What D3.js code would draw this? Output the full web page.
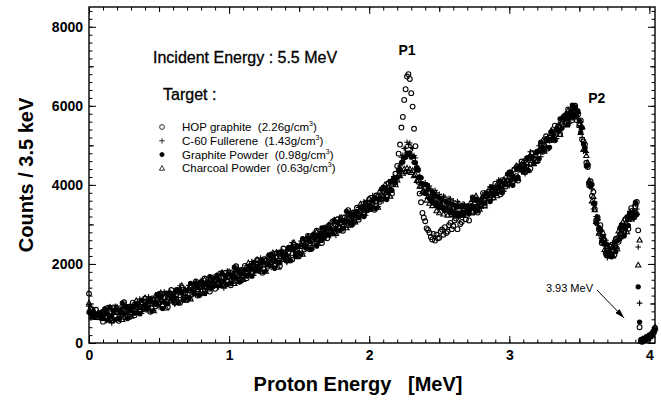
<!DOCTYPE html>
<html>
<head>
<meta charset="utf-8">
<title>Proton spectra, 5.5 MeV incident</title>
<script src="https://d3js.org/d3.v7.min.js"></script>
<style>
    body { margin: 0; background: #fff; }
    svg { font-family: "Liberation Sans", Arial, Helvetica, sans-serif; }
    .axis text { font-size: 14px; font-weight: bold; fill: #000; }
    .axis line { stroke: #000; stroke-width: 1; }
    .axis-title { font-size: 20px; font-weight: bold; }
    .note { font-size: 16px; stroke: #000; stroke-width: 0.3; }
    .legend { font-size: 11.5px; white-space: pre; }
    .peak { font-size: 14px; font-weight: bold; }
</style>
</head>
<body>
<svg width="661" height="402"></svg>
<script>
// proton energy grid [MeV]
var energy = [
    0,0.0125,0.025,0.0375,0.05,0.0625,0.075,0.0875, 0.1,0.1125,0.125,0.1375,0.15,0.1625,0.175,0.1875,
    0.2,0.2125,0.225,0.2375,0.25,0.2625,0.275,0.2875, 0.3,0.3125,0.325,0.3375,0.35,0.3625,0.375,0.3875,
    0.4,0.4125,0.425,0.4375,0.45,0.4625,0.475,0.4875, 0.5,0.5125,0.525,0.5375,0.55,0.5625,0.575,0.5875,
    0.6,0.6125,0.625,0.6375,0.65,0.6625,0.675,0.6875, 0.7,0.7125,0.725,0.7375,0.75,0.7625,0.775,0.7875,
    0.8,0.8125,0.825,0.8375,0.85,0.8625,0.875,0.8875, 0.9,0.9125,0.925,0.9375,0.95,0.9625,0.975,0.9875,
    1,1.0125,1.025,1.0375,1.05,1.0625,1.075,1.0875, 1.1,1.1125,1.125,1.1375,1.15,1.1625,1.175,1.1875,
    1.2,1.2125,1.225,1.2375,1.25,1.2625,1.275,1.2875, 1.3,1.3125,1.325,1.3375,1.35,1.3625,1.375,1.3875,
    1.4,1.4125,1.425,1.4375,1.45,1.4625,1.475,1.4875, 1.5,1.5125,1.525,1.5375,1.55,1.5625,1.575,1.5875,
    1.6,1.6125,1.625,1.6375,1.65,1.6625,1.675,1.6875, 1.7,1.7125,1.725,1.7375,1.75,1.7625,1.775,1.7875,
    1.8,1.8125,1.825,1.8375,1.85,1.8625,1.875,1.8875, 1.9,1.9125,1.925,1.9375,1.95,1.9625,1.975,1.9875,
    2,2.0125,2.025,2.0375,2.05,2.0625,2.075,2.0875, 2.1,2.1125,2.125,2.1375,2.15,2.1625,2.175,2.1875,
    2.2,2.21,2.22,2.23,2.24,2.25,2.26,2.27,2.28,2.29, 2.3,2.31,2.32,2.33,2.34,2.35,2.36,2.37,2.38,2.39,
    2.4,2.41,2.42,2.43,2.44,2.45,2.46,2.47,2.48,2.49, 2.5,2.51,2.52,2.53,2.54,2.55,2.56,2.57,2.58,2.59,
    2.6,2.61,2.62,2.63,2.64,2.65,2.66,2.67,2.68,2.69,
    2.7,2.7125,2.725,2.7375,2.75,2.7625,2.775,2.7875, 2.8,2.8125,2.825,2.8375,2.85,2.8625,2.875,2.8875,
    2.9,2.9125,2.925,2.9375,2.95,2.9625,2.975,2.9875, 3,3.0125,3.025,3.0375,3.05,3.0625,3.075,3.0875,
    3.1,3.1125,3.125,3.1375,3.15,3.1625,3.175,3.1875, 3.2,3.2125,3.225,3.2375,3.25,3.2625,3.275,3.2875,
    3.3,3.3125,3.325,3.3375,3.35,3.3625,3.375,3.3875,
    3.4,3.41,3.42,3.43,3.44,3.45,3.46,3.47, 3.48,3.49,3.5,3.51,3.52,3.53,3.54,3.55,
    3.56,3.57,3.58,3.59,3.6,3.61,3.62,3.63, 3.64,3.65,3.66,3.67,3.68,3.69,3.7,3.71,
    3.72,3.73,3.74,3.75,3.76,3.77,3.78,3.79, 3.8,3.81,3.82,3.83,3.84,3.85,3.86,3.87,
    3.88,3.89,3.9,3.91,
    3.92,3.93,
    3.94,3.95,3.96,3.97,3.98,3.99,4,4.01,4.02,4.03,4.04
];

// counts / 3.5 keV
var hopGraphite = [
    1250,750,850,660,840,650,760,670, 540,770,670,890,600,760,900,670,
    790,560,880,720,1030,790,680,920, 770,1020,700,910,1000,790,980,900,
    1130,910,980,790,1130,1080,930,1060, 1040,1180,950,1250,1050,910,1230,1340,
    1240,1020,1240,1330,1020,1400,1210,1160, 1090,1330,1450,1240,1360,1560,1200,1440,
    1520,1330,1630,1410,1520,1300,1510,1660, 1370,1620,1520,1760,1470,1640,1780,1560,
    1690,1460,1790,1630,1940,1710,1600,1850, 1700,1950,1640,1860,1950,1740,1940,1870,
    2100,1880,1960,1780,2120,2080,1930,2060, 2040,2190,1970,2270,2080,1950,2270,2390,
    2290,2080,2310,2400,2110,2490,2310,2260, 2210,2450,2580,2370,2510,2710,2370,2610,
    2710,2520,2840,2620,2750,2530,2760,2920, 2650,2900,2820,3070,2800,2970,3130,2920,
    3060,2840,3180,3040,3360,3130,3040,3300, 3160,3420,3120,3350,3450,3250,3460,3400,
    3640,3440,3540,3370,3730,3700,3570,3730, 3730,3910,3710,4040,3880,3780,4130,4280,
    4480,4790,5020,5450,5720,6150,6420,6740,6800,6680, 6320,5980,5420,4980,4420,4080,3780,3560,3290,3170,
    3080,2900,2860,2790,2680,2620,2760,2590,2740,2650, 2660,2820,2870,2740,2930,2780,2820,2980,3040,2880,
    2960,3100,3150,2880,3210,3010,3060,3250,3300,3130,
    3320,3100,3440,3300,3620,3390,3300,3560, 3520,3790,3490,3720,3820,3630,3850,3790,
    4030,3830,3930,3760,4120,4090,3960,4110, 4110,4270,4070,4390,4220,4110,4450,4590,
    4510,4320,4570,4680,4410,4810,4660,4630, 4600,4860,5020,4840,5000,5230,4920,5190,
    5310,5160,5500,5320,5470,5290,5540,5720,
    5740,5580,5910,5710,5850,5640,5860,6000, 5640,5780,5550,5630,5150,5100,5020,4560,
    4450,3990,4090,3720,3820,3390,3100,3180, 2870,2980,2530,2620,2590,2280,2390,2250,
    2440,2230,2350,2230,2630,2650,2560,2750, 2780,2970,2790,3130,2980,2890,3250,3410,
    3350,3180,3450,3570,
    2850,400,
    60,30,110,90,150,120,200,170,250,300,380
];

var c60Fullerene = [
    930,640,820,770,650,760,640,790, 670,800,570,850,650,510,820,930,
    820,600,820,900,600,970,780,720, 660,890,1010,790,920,1110,750,980,
    1070,870,1170,940,1060,830,1050,1190, 910,1150,1050,1290,1000,1160,1310,1080,
    1210,980,1300,1150,1450,1220,1110,1360, 1200,1460,1140,1360,1440,1240,1430,1360,
    1580,1370,1440,1260,1590,1550,1390,1530, 1500,1650,1420,1720,1520,1390,1700,1820,
    1720,1500,1730,1810,1510,1890,1700,1650, 1590,1820,1950,1740,1870,2060,1710,1950,
    2040,1840,2150,1930,2050,1830,2050,2190, 1910,2160,2070,2310,2030,2200,2350,2130,
    2260,2040,2370,2220,2540,2310,2210,2460, 2320,2580,2270,2490,2590,2390,2600,2530,
    2770,2560,2650,2470,2820,2780,2640,2790, 2780,2930,2720,3030,2850,2720,3050,3180,
    3090,2880,3120,3220,2930,3310,3140,3100, 3050,3290,3430,3230,3370,3570,3230,3480,
    3580,3400,3730,3520,3660,3450,3690,3860, 3600,3880,3810,4080,3830,4030,4210,4020,
    4230,4420,4480,4700,4750,4920,4930,5080,5020,5060, 4950,4920,4740,4680,4470,4420,4220,4180,4030,4010,
    4050,3850,3760,3970,3900,3680,3600,3860,3800,3570, 3760,3530,3480,3720,3690,3450,3420,3660,3640,3390,
    3600,3330,3310,3580,3540,3290,3300,3520,3500,3310,
    3450,3250,3480,3580,3290,3670,3500,3460, 3410,3660,3800,3600,3740,3950,3620,3870,
    3970,3790,4120,3910,4050,3840,4080,4240, 3980,4240,4170,4430,4170,4360,4530,4330,
    4480,4280,4630,4500,4840,4630,4560,4830, 4710,4990,4710,4960,5080,4910,5150,5110,
    5370,5200,5310,5170,5540,5540,5420,5590,
    5800,5620,5720,5560,5920,5890,5740,5870, 5770,5810,5450,5590,5200,4850,4940,4820,
    4480,4030,4030,3900,3390,3570,3200,2980, 2760,2850,2840,2500,2510,2600,2160,2330,
    2380,2190,2540,2380,2560,2400,2680,2880, 2650,2940,2890,3170,2930,3140,3330,3150,
    3320,3140,3510,3390,
    2430,1010,
    30,80,50,140,100,180,140,230,200,290,340
];

var graphitePowder = [
    780,740,700,760,700,720,690,760, 620,860,740,590,900,690,810,590,
    840,620,750,1010,740,920,620,870, 820,920,750,980,930,740,1080,850,
    970,860,1040,1110,810,1020,980,1220, 1250,1160,870,1040,1260,990,1250,1130,
    1060,1140,1350,1010,1340,1290,1090,1340, 1330,1130,1510,1350,1250,1500,1400,1200,
    1550,1440,1250,1510,1420,1680,1400,1630, 1450,1710,1590,1460,1770,1570,1690,1480,
    1740,1520,1660,1920,1650,1840,1540,1800, 1750,1850,1690,1930,1880,1690,2040,1820,
    1940,1830,2020,2100,1800,2020,1980,2220, 2250,2170,1890,2060,2290,2030,2290,2180,
    2110,2200,2420,2080,2430,2380,2190,2440, 2450,2250,2640,2480,2400,2650,2570,2370,
    2740,2630,2460,2720,2650,2910,2650,2890, 2730,2990,2890,2770,3100,2900,3040,2840,
    3110,2900,3050,3330,3070,3260,2980,3250, 3210,3320,3170,3420,3380,3200,3560,3350,
    3480,3390,3600,3690,3410,3640,3620,3890, 3940,3890,3630,3830,4090,3860,4150,4070,
    4180,4360,4390,4560,4580,4700,4700,4800,4770,4810, 4700,4720,4570,4560,4390,4370,4200,4180,4030,4010,
    3780,4000,3890,3660,3590,3820,3750,3520,3480,3700, 3430,3650,3610,3390,3350,3580,3550,3320,3300,3520,
    3280,3490,3470,3260,3250,3450,3440,3260,3270,3440,
    3470,3270,3410,3690,3430,3620,3340,3610, 3570,3690,3540,3790,3750,3580,3950,3740,
    3870,3780,3990,4080,3800,4030,4010,4270, 4320,4250,3990,4180,4430,4190,4470,4380,
    4330,4440,4680,4360,4730,4700,4540,4810, 4840,4660,5080,4950,4890,5170,5120,4950,
    5340,5270,5120,5420,5370,5670,5430,5690,
    5770,5690,5530,5810,5750,6020,5750,5970, 5720,5870,5620,5330,5450,5030,4930,4480,
    4500,4050,3960,4010,3530,3520,3040,3130, 2920,2880,2580,2690,2520,2230,2490,2200,
    2280,2180,2410,2550,2310,2590,2610,2910, 2990,2950,2710,2920,3190,2970,3270,3200,
    3170,3300,3560,3250,
    1420,530,
    90,50,70,120,80,160,190,150,240,260,320
];

var charcoalPowder = [
    1010,900,660,780,640,740,720,690, 620,850,650,580,900,560,770,850,
    900,680,800,590,910,770,650,900, 670,910,860,1070,770,840,1020,910,
    1140,930,830,1070,980,810,1200,990, 1020,1270,970,1160,880,1140,1280,1060,
    1190,1070,1320,1060,1280,1450,1160,1080, 1160,1390,1110,1370,1280,1540,1350,1240,
    1480,1260,1600,1420,1360,1600,1430,1540, 1450,1700,1500,1450,1780,1440,1650,1740,
    1800,1580,1710,1500,1820,1690,1570,1830, 1600,1840,1800,2020,1720,1790,1980,1880,
    2110,1900,1810,2060,1970,1810,2200,1990, 2020,2280,1990,2180,1910,2180,2320,2110,
    2240,2130,2390,2130,2370,2540,2260,2180, 2280,2510,2240,2500,2430,2690,2520,2410,
    2670,2450,2810,2630,2590,2830,2680,2800, 2730,2980,2800,2760,3110,2770,3000,3100,
    3170,2960,3100,2910,3240,3110,3010,3280, 3060,3310,3280,3510,3220,3300,3500,3410,
    3650,3460,3390,3650,3580,3430,3840,3660, 3710,4000,3730,3950,3710,4010,4180,4000,
    4120,4250,4230,4340,4290,4400,4330,4420,4350,4400, 4310,4360,4230,4260,4110,4120,3960,3970,3820,3840,
    3800,3610,3700,3530,3680,3470,3560,3600,3340,3520, 3290,3500,3430,3260,3470,3380,3230,3440,3400,3250,
    3410,3230,3370,3440,3220,3280,3450,3230,3390,3320,
    3400,3300,3560,3310,3550,3720,3450,3380, 3480,3720,3460,3730,3660,3930,3770,3670,
    3930,3720,4090,3920,3890,4140,4000,4120, 4060,4320,4150,4120,4480,4160,4400,4510,
    4590,4400,4550,4370,4720,4610,4530,4810, 4610,4880,4870,5120,4850,4960,5190,5120,
    5380,5220,5160,5450,5390,5270,5690,5520,
    5700,5510,5880,5720,5690,5940,5780,5880, 5720,5860,5530,5320,5460,4900,4890,4740,
    4560,4110,4010,3590,3700,3370,3070,3160, 2770,2870,2690,2780,2360,2330,2430,2260,
    2450,2250,2200,2510,2480,2380,2830,2680, 2760,3060,2810,3040,2810,3120,3300,3130,
    3300,3230,3530,3300,
    1970,2600,
    40,100,60,80,130,110,170,210,190,280,400
];

var targetNames = ["HOP graphite", "C-60 Fullerene", "Graphite Powder", "Charcoal Powder"];
var targetDensity = ["2.26", "1.43", "0.98", "0.63"];
var xTicks = [0, 1, 2, 3, 4];
var yTicks = [0, 2000, 4000, 6000, 8000];
var peakLabels = [{text: "P1", e: 2.27, v: 7290}, {text: "P2", e: 3.625, v: 6070}];
var edgeArrow = {text: "3.93 MeV", e0: 3.626, v0: 1340, e1: 3.82, v1: 630};

var svg = d3.select("svg"),
    margin = {top: 7, right: 6, bottom: 59, left: 89},
    width = +svg.attr("width") - margin.left - margin.right,
    height = +svg.attr("height") - margin.top - margin.bottom;

var x = d3.scaleLinear().domain([0, 4.04]).range([0, width]);
var y = d3.scaleLinear().domain([0, 8500]).range([height, 0]);

var g = svg.append("g")
    .attr("transform", "translate(" + margin.left + "," + margin.top + ")");

var markers = {
    circle: {d: "M2.4,0A2.4,2.4 0 1,1 -2.4,0A2.4,2.4 0 1,1 2.4,0Z", fill: "none"},
    plus: {d: "M-2.8,0H2.8M0,-2.8V2.8", fill: "none"},
    dot: {d: "M2.1,0A2.1,2.1 0 1,1 -2.1,0A2.1,2.1 0 1,1 2.1,0Z", fill: "#000"},
    triangle: {d: "M0,-2.8L2.6,1.8H-2.6Z", fill: "none"}
};

var series = [
    {values: hopGraphite, marker: "circle"},
    {values: c60Fullerene, marker: "plus"},
    {values: graphitePowder, marker: "dot"},
    {values: charcoalPowder, marker: "triangle"}
];
series.forEach(function(s) {
    if (s.values.length !== energy.length) console.log("length mismatch", s.marker, s.values.length, energy.length);
});

// data points, lightest density drawn first
series.slice().reverse().forEach(function(s) {
    var m = markers[s.marker];
    g.append("g").selectAll("path")
        .data(energy.map(function(e, i) { return {e: e, v: s.values[i]}; }))
        .enter().append("path")
        .attr("transform", function(d) { return "translate(" + x(d.e) + "," + y(d.v) + ")"; })
        .attr("d", m.d)
        .attr("fill", m.fill)
        .attr("stroke", "#000")
        .attr("stroke-width", 1.1);
});

// axes: ticks inside on all four sides
function tickAxis(axis, transform, values, size, labels) {
    var a = axis.tickValues(values).tickSize(-size).tickSizeOuter(0);
    if (!labels) a.tickFormat("");
    var ax = g.append("g").attr("class", "axis").attr("transform", transform)
        .call(a).attr("font-family", null).attr("font-size", null);
    ax.select(".domain").remove();
    return ax;
}
var xMinor = d3.range(0, 4.04, 0.1), xMid = [0.5, 1.5, 2.5, 3.5];
var yMinor = d3.range(0, 8500, 200), yMid = [1000, 3000, 5000, 7000];
var bottom = "translate(0," + height + ")", right = "translate(" + width + ",0)";

tickAxis(d3.axisBottom(x), bottom, xMinor, 3.5);
tickAxis(d3.axisBottom(x), bottom, xMid, 5);
tickAxis(d3.axisBottom(x).tickPadding(7).tickFormat(d3.format("d")), bottom, xTicks, 7, true);
tickAxis(d3.axisTop(x), null, xMinor, 3.5);
tickAxis(d3.axisTop(x), null, xMid, 5);
tickAxis(d3.axisTop(x), null, xTicks, 7);

tickAxis(d3.axisLeft(y), null, yMinor, 3.5);
tickAxis(d3.axisLeft(y), null, yMid, 5);
tickAxis(d3.axisLeft(y).tickPadding(6).tickFormat(d3.format("d")), null, yTicks, 7, true);
tickAxis(d3.axisRight(y), right, yMinor, 3.5);
tickAxis(d3.axisRight(y), right, yMid, 5);
tickAxis(d3.axisRight(y), right, yTicks, 7);

g.append("rect")
    .attr("width", width).attr("height", height)
    .attr("fill", "none").attr("stroke", "#000").attr("stroke-width", 1.4);

// axis titles
svg.append("text")
    .attr("class", "axis-title")
    .attr("x", 358).attr("y", 391)
    .attr("text-anchor", "middle")
    .style("white-space", "pre")
    .text("Proton Energy   [MeV]");

svg.append("text")
    .attr("class", "axis-title")
    .attr("transform", "translate(33,175) rotate(-90)")
    .attr("text-anchor", "middle")
    .text("Counts / 3.5 keV");

// annotations
svg.append("text").attr("class", "note").attr("x", 153).attr("y", 63)
    .text("Incident Energy : 5.5 MeV");
svg.append("text").attr("class", "note").attr("x", 163).attr("y", 100)
    .text("Target :");

targetNames.forEach(function(name, i) {
    var m = markers[series[i].marker];
    var yy = 127 + i * 13.8;
    svg.append("path")
        .attr("transform", "translate(162," + yy + ")")
        .attr("d", m.d).attr("fill", m.fill)
        .attr("stroke", "#000").attr("stroke-width", 0.8);
    var t = svg.append("text").attr("class", "legend")
        .attr("x", 182).attr("y", yy + 4);
    t.append("tspan").text(name + "  (" + targetDensity[i] + "g/cm");
    t.append("tspan").attr("font-size", "7px").attr("dy", -5).text("3");
    t.append("tspan").attr("dy", 5).text(")");
});

peakLabels.forEach(function(p) {
    g.append("text").attr("class", "peak")
        .attr("x", x(p.e)).attr("y", y(p.v))
        .attr("text-anchor", "middle")
        .text(p.text);
});

svg.append("defs").append("marker")
    .attr("id", "head")
    .attr("viewBox", "0 0 10 6")
    .attr("refX", 10).attr("refY", 3)
    .attr("markerWidth", 10).attr("markerHeight", 6)
    .attr("markerUnits", "userSpaceOnUse")
    .attr("orient", "auto")
    .append("path").attr("d", "M0,0L10,3L0,6Z").attr("fill", "#000");

g.append("line")
    .attr("x1", x(edgeArrow.e0)).attr("y1", y(edgeArrow.v0))
    .attr("x2", x(edgeArrow.e1)).attr("y2", y(edgeArrow.v1))
    .attr("stroke", "#000").attr("stroke-width", 1)
    .attr("marker-end", "url(#head)");

g.append("text")
    .attr("x", x(edgeArrow.e0) - 4).attr("y", y(edgeArrow.v0) + 2)
    .attr("text-anchor", "end")
    .style("font-size", "11px")
    .text(edgeArrow.text);
</script>
</body>
</html>
